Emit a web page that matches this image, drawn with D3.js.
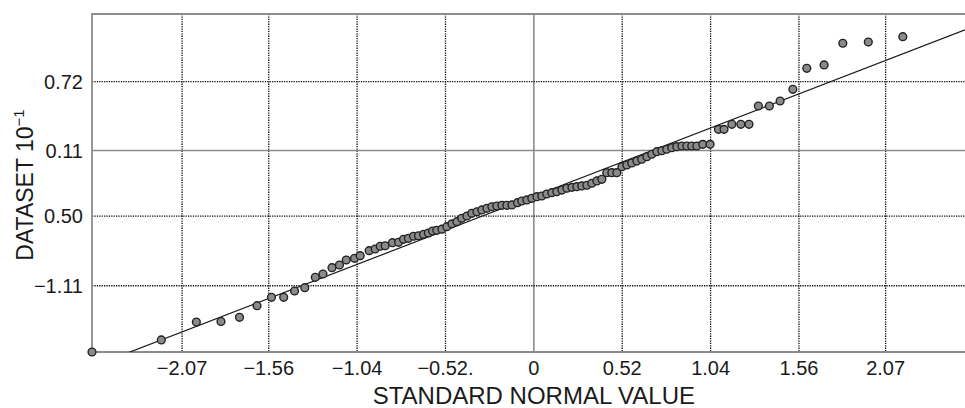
<!DOCTYPE html>
<html>
<head>
<meta charset="utf-8">
<script src="https://cdn.jsdelivr.net/npm/d3@7"></script>
<style>
  html, body { margin: 0; padding: 0; background: #fff; }
  svg { display: block; font-family: "Liberation Sans", Arial, Helvetica, sans-serif; }
</style>
</head>
<body>
<svg id="chart" width="965" height="408"></svg>
<script>
// ---- data ----
const xQuantiles = [-2.600,-2.192,-1.986,-1.841,-1.732,-1.629,-1.544,-1.472,-1.408,-1.348,
  -1.286,-1.241,-1.188,-1.144,-1.104,-1.055,-1.022,-0.969,-0.934,-0.904,
  -0.875,-0.832,-0.796,-0.767,-0.738,-0.708,-0.679,-0.649,-0.621,-0.596,
  -0.571,-0.541,-0.512,-0.482,-0.453,-0.424,-0.394,-0.365,-0.335,-0.306,
  -0.276,-0.247,-0.218,-0.188,-0.159,-0.129,-0.096,-0.071,-0.041,-0.012,
  0.018,0.047,0.076,0.106,0.135,0.165,0.194,0.224,0.253,0.282,
  0.312,0.341,0.371,0.400,0.429,0.459,0.488,0.518,0.547,0.576,
  0.606,0.635,0.665,0.694,0.724,0.753,0.782,0.812,0.841,0.871,
  0.900,0.929,0.959,0.994,1.037,1.086,1.119,1.165,1.218,1.266,
  1.321,1.386,1.449,1.524,1.606,1.708,1.818,1.968,2.171];
const yValues = [0.000,0.178,0.444,0.451,0.513,0.685,0.809,0.809,0.902,0.951,
  1.105,1.154,1.247,1.287,1.361,1.386,1.425,1.499,1.524,1.564,
  1.572,1.617,1.623,1.667,1.682,1.712,1.720,1.741,1.760,1.790,
  1.800,1.817,1.854,1.896,1.928,1.978,2.012,2.052,2.075,2.101,
  2.126,2.149,2.160,2.170,2.170,2.175,2.209,2.234,2.249,2.274,
  2.297,2.308,2.337,2.357,2.371,2.396,2.422,2.436,2.445,2.456,
  2.467,2.496,2.530,2.555,2.652,2.652,2.652,2.741,2.766,2.796,
  2.825,2.851,2.889,2.925,2.963,2.978,2.999,3.022,3.037,3.047,
  3.047,3.047,3.047,3.072,3.072,3.294,3.294,3.368,3.368,3.368,
  3.639,3.639,3.713,3.886,4.197,4.246,4.567,4.586,4.664];
const fitIntercept = 2.305;
const fitSlope = 0.970;

const xTickValues = [-2.07,-1.56,-1.04,-0.52,0,0.52,1.04,1.56,2.07];
const xTickLabels = ["\u22122.07","\u22121.56","\u22121.04","\u22120.52.","0","0.52","1.04","1.56","2.07"];
const yTickValues = [0.98,2.01,2.98,4.0];
const yTickLabels = ["\u22121.11","0.50","0.11","0.72"];
const xSolidTick = 0;      // solid gridline at x = 0
const ySolidTick = 2.98;   // solid gridline at label 0.11

const xTitle = "STANDARD NORMAL VALUE";
const yTitleMain = "DATASET 10";
const yTitleSup = "\u22121";

// ---- layout ----
const W = 965, H = 408;
const m = {left: 92, right: 0, top: 14, bottom: 56};
const svg = d3.select("#chart");
const x = d3.scaleLinear().domain([-2.6, 2.537]).range([m.left, W - m.right]);
const y = d3.scaleLinear().domain([0, 5]).range([H - m.bottom, m.top]);

const grid = svg.append("g");
// vertical gridlines
grid.selectAll("line.vx").data(xTickValues).join("line")
  .attr("x1", d => x(d)).attr("x2", d => x(d))
  .attr("y1", y(5)).attr("y2", y(0))
  .attr("stroke", d => d === xSolidTick ? "#8c8c8c" : "#111")
  .attr("stroke-width", d => d === xSolidTick ? 1.6 : 1.3)
  .attr("stroke-dasharray", d => d === xSolidTick ? null : "1.3,1.1");
// horizontal gridlines
grid.selectAll("line.hy").data(yTickValues).join("line")
  .attr("x1", x(-2.6)).attr("x2", W)
  .attr("y1", d => y(d)).attr("y2", d => y(d))
  .attr("stroke", d => d === ySolidTick ? "#8c8c8c" : "#111")
  .attr("stroke-width", d => d === ySolidTick ? 1.6 : 1.3)
  .attr("stroke-dasharray", d => d === ySolidTick ? null : "1.3,1.1");

// frame (left, top, bottom)
const frame = svg.append("g").attr("stroke", "#8c8c8c").attr("stroke-width", 1.8).attr("fill", "none");
frame.append("path").attr("d", `M${W},${y(5)}H${x(-2.6)}V${y(0)}H${W}`);

// fitted line, clipped to plot area
svg.append("clipPath").attr("id", "clip").append("rect")
  .attr("x", m.left).attr("y", m.top).attr("width", W - m.left).attr("height", H - m.top - m.bottom);
const xs = [-2.6, 2.537];
svg.append("line")
  .attr("clip-path", "url(#clip)")
  .attr("x1", x(xs[0])).attr("y1", y(fitIntercept + fitSlope * xs[0]))
  .attr("x2", x(xs[1])).attr("y2", y(fitIntercept + fitSlope * xs[1]))
  .attr("stroke", "#1a1a1a").attr("stroke-width", 1.2);

// points
svg.append("g").selectAll("circle").data(d3.range(xQuantiles.length)).join("circle")
  .attr("cx", i => x(xQuantiles[i]))
  .attr("cy", i => y(yValues[i]))
  .attr("r", 3.9)
  .attr("fill", "#8a8a8a")
  .attr("stroke", "#222")
  .attr("stroke-width", 1.4);

// x tick labels
svg.append("g").selectAll("text").data(xTickValues).join("text")
  .attr("x", d => x(d)).attr("y", 375)
  .attr("text-anchor", "middle")
  .attr("font-size", 20).attr("fill", "#1a1a1a")
  .text((d, i) => xTickLabels[i]);

// y tick labels
svg.append("g").selectAll("text").data(yTickValues).join("text")
  .attr("x", 83).attr("y", d => y(d))
  .attr("dy", "0.36em")
  .attr("text-anchor", "end")
  .attr("font-size", 20).attr("fill", "#1a1a1a")
  .text((d, i) => yTickLabels[i]);

// axis titles
svg.append("text")
  .attr("x", x(0)).attr("y", 404)
  .attr("text-anchor", "middle")
  .attr("font-size", 24).attr("fill", "#1a1a1a")
  .text(xTitle);

const yt = svg.append("text")
  .attr("transform", "translate(33,185) rotate(-90)")
  .attr("text-anchor", "middle")
  .attr("font-size", 23).attr("fill", "#1a1a1a");
yt.append("tspan").text(yTitleMain);
yt.append("tspan").attr("font-size", 15).attr("dy", -9).text(yTitleSup);
</script>
</body>
</html>
